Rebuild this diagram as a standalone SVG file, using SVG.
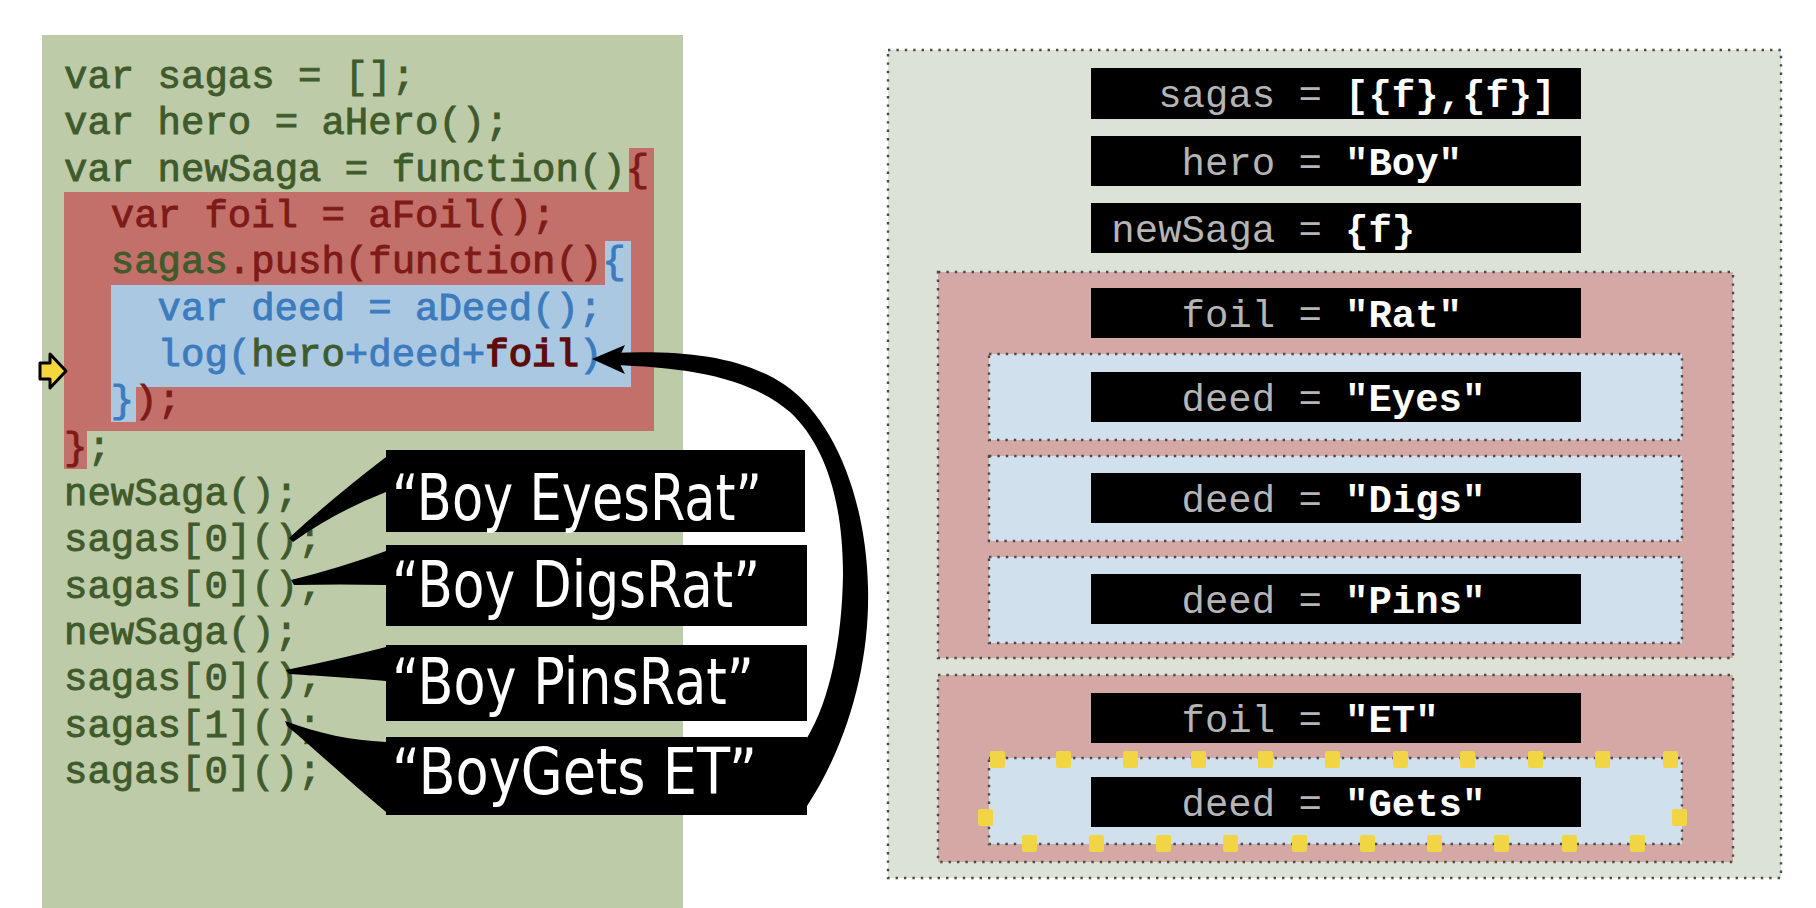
<svg xmlns="http://www.w3.org/2000/svg" width="1816" height="908" viewBox="0 0 1816 908">
<defs>
<style>
.code{font-family:"Liberation Mono","DejaVu Sans Mono",monospace;font-size:39px;font-weight:normal;stroke-width:0.9px}
.g{fill:#3f5a2b;stroke:#3f5a2b}
.r{fill:#7e1a17;stroke:#7e1a17}
.b{fill:#3c7bbd;stroke:#3c7bbd}
.dr{fill:#5e0c0c;stroke:#5e0c0c;stroke-width:1.6px}
.hand{font-family:"DejaVu Sans","Liberation Sans",sans-serif;font-size:64px;fill:#ffffff}
.dot{stroke:#4a4a4a;stroke-width:2.4;stroke-dasharray:2.4 6;fill:none}
.nm{font-family:"Liberation Mono","DejaVu Sans Mono",monospace;font-size:39px;fill:#b5b5b5;text-anchor:end}
.val{font-family:"Liberation Mono","DejaVu Sans Mono",monospace;font-size:39px;font-weight:bold;fill:#ffffff}
.box{fill:#000}
.ys{fill:#f2d544}
</style>
</defs>
<rect width="1816" height="908" fill="#ffffff"/>

<g id="code-panel">
<rect x="42" y="35" width="641" height="873" fill="#bdcba9"/>
<path d="M629 148H654V431H87V469H64V192H629Z" fill="#c3706a"/>
<path d="M605 241H631V387H136V422H111V285H605Z" fill="#aac8e2"/>
<polygon points="40,363 50,363 50,354 66,371 50,388 50,379 40,379" fill="#f4d63e" stroke="#000" stroke-width="3" stroke-linejoin="round"/>
<text class="code" x="64" y="88"><tspan class="g">var sagas = [];</tspan></text>
<text class="code" x="64" y="134.3"><tspan class="g">var hero = aHero();</tspan></text>
<text class="code" x="64" y="180.7"><tspan class="g">var newSaga = function()</tspan><tspan class="r">{</tspan></text>
<text class="code" x="110.8" y="227"><tspan class="r">var foil = aFoil();</tspan></text>
<text class="code" x="110.8" y="273.3"><tspan class="g">sagas</tspan><tspan class="r">.push(function()</tspan><tspan class="b">{</tspan></text>
<text class="code" x="157.6" y="319.7"><tspan class="b">var deed = aDeed();</tspan></text>
<text class="code" x="157.6" y="366"><tspan class="b">log(</tspan><tspan class="g">hero</tspan><tspan class="b">+deed+</tspan><tspan class="dr">foil</tspan><tspan class="b">)</tspan></text>
<text class="code" x="110.8" y="412.3"><tspan class="b">}</tspan><tspan class="r">);</tspan></text>
<text class="code" x="64" y="458.7"><tspan class="r">}</tspan><tspan class="g">;</tspan></text>
<text class="code g" x="64" y="505">newSaga();</text>
<text class="code g" x="64" y="551.3">sagas[0]();</text>
<text class="code g" x="64" y="597.7">sagas[0]();</text>
<text class="code g" x="64" y="644">newSaga();</text>
<text class="code g" x="64" y="690.3">sagas[0]();</text>
<text class="code g" x="64" y="736.7">sagas[1]();</text>
<text class="code g" x="64" y="783">sagas[0]();</text>
</g>

<g id="connectors">
<path d="M289 538Q330 500 386 457L386 492Q335 512 293 542Z" fill="#000"/>
<path d="M291 580Q340 568 386 551L386 585Q340 584 294 585Z" fill="#000"/>
<path d="M286 670Q340 659 386 647L386 681Q340 677 289 674Z" fill="#000"/>
<path d="M285 721C320 734 350 740 386 742L386 812C350 782 318 752 287 726Z" fill="#000"/>
<path d="M610 353C680 350 740 355 785 385C835 420 866 500 868 587C870 660 850 740 807 806L807 738C830 700 842 640 843 575C843 500 825 445 790 412C750 378 690 367 610 365Z" fill="#000"/>
<path d="M592 359L625 345L618 360L625 374Z" fill="#000"/>
</g>

<g id="bubble-1">
<rect x="386" y="450" width="419" height="82" class="box"/>
<text class="hand" x="392" y="520" textLength="370" lengthAdjust="spacingAndGlyphs">“Boy EyesRat”</text>
</g>
<g id="bubble-2">
<rect x="386" y="545" width="421" height="81" class="box"/>
<text class="hand" x="392" y="607" textLength="368" lengthAdjust="spacingAndGlyphs">“Boy DigsRat”</text>
</g>
<g id="bubble-3">
<rect x="386" y="645" width="421" height="76" class="box"/>
<text class="hand" x="392" y="704" textLength="362" lengthAdjust="spacingAndGlyphs">“Boy PinsRat”</text>
</g>
<g id="bubble-4">
<rect x="386" y="737" width="421" height="78" class="box"/>
<text class="hand" x="392" y="794" textLength="365" lengthAdjust="spacingAndGlyphs">“BoyGets ET”</text>
</g>

<g id="global-scope">
<rect x="888" y="50" width="893" height="828" class="dot" style="fill:#dce3d6"/>
<g id="var-sagas"><rect x="1091" y="68" width="490" height="51" class="box"/><text class="nm" x="1322" y="107">sagas =</text><text class="val" x="1345" y="107">[{f},{f}]</text></g>
<g id="var-hero"><rect x="1091" y="136" width="490" height="50" class="box"/><text class="nm" x="1322" y="175">hero =</text><text class="val" x="1345" y="175">"Boy"</text></g>
<g id="var-newSaga"><rect x="1091" y="203" width="490" height="50" class="box"/><text class="nm" x="1322" y="242">newSaga =</text><text class="val" x="1345" y="242">{f}</text></g>
</g>

<g id="saga-scope-1">
<rect x="938" y="272" width="795" height="386" class="dot" style="fill:#d4a9a5"/>
<g id="var-foil-1"><rect x="1091" y="288" width="490" height="50" class="box"/><text class="nm" x="1322" y="327">foil =</text><text class="val" x="1345" y="327">"Rat"</text></g>
<g id="deed-scope-1"><rect x="989" y="354" width="693" height="86" class="dot" style="fill:#d0e0ec"/><rect x="1091" y="372" width="490" height="50" class="box"/><text class="nm" x="1322" y="411">deed =</text><text class="val" x="1345" y="411">"Eyes"</text></g>
<g id="deed-scope-2"><rect x="989" y="456" width="693" height="85" class="dot" style="fill:#d0e0ec"/><rect x="1091" y="473" width="490" height="50" class="box"/><text class="nm" x="1322" y="512">deed =</text><text class="val" x="1345" y="512">"Digs"</text></g>
<g id="deed-scope-3"><rect x="989" y="557" width="693" height="86" class="dot" style="fill:#d0e0ec"/><rect x="1091" y="574" width="490" height="50" class="box"/><text class="nm" x="1322" y="613">deed =</text><text class="val" x="1345" y="613">"Pins"</text></g>
</g>

<g id="saga-scope-2">
<rect x="938" y="675" width="795" height="187" class="dot" style="fill:#d4a9a5"/>
<g id="var-foil-2"><rect x="1091" y="693" width="490" height="50" class="box"/><text class="nm" x="1322" y="732">foil =</text><text class="val" x="1345" y="732">"ET"</text></g>
<g id="deed-scope-4"><rect x="989" y="758" width="693" height="86" class="dot" style="fill:#d0e0ec"/><rect x="1091" y="777" width="490" height="50" class="box"/><text class="nm" x="1322" y="816">deed =</text><text class="val" x="1345" y="816">"Gets"</text></g>
<g id="selection-handles">
<rect class="ys" x="990" y="751" width="15" height="17" rx="2"/>
<rect class="ys" x="1056" y="751" width="15" height="17" rx="2"/>
<rect class="ys" x="1123" y="751" width="15" height="17" rx="2"/>
<rect class="ys" x="1191" y="751" width="15" height="17" rx="2"/>
<rect class="ys" x="1258" y="751" width="15" height="17" rx="2"/>
<rect class="ys" x="1325" y="751" width="15" height="17" rx="2"/>
<rect class="ys" x="1393" y="751" width="15" height="17" rx="2"/>
<rect class="ys" x="1460" y="751" width="15" height="17" rx="2"/>
<rect class="ys" x="1528" y="751" width="15" height="17" rx="2"/>
<rect class="ys" x="1595" y="751" width="15" height="17" rx="2"/>
<rect class="ys" x="1663" y="751" width="15" height="17" rx="2"/>
<rect class="ys" x="978" y="809" width="15" height="17" rx="2"/>
<rect class="ys" x="1672" y="809" width="15" height="17" rx="2"/>
<rect class="ys" x="1022" y="835" width="15" height="17" rx="2"/>
<rect class="ys" x="1089" y="835" width="15" height="17" rx="2"/>
<rect class="ys" x="1156" y="835" width="15" height="17" rx="2"/>
<rect class="ys" x="1223" y="835" width="15" height="17" rx="2"/>
<rect class="ys" x="1292" y="835" width="15" height="17" rx="2"/>
<rect class="ys" x="1360" y="835" width="15" height="17" rx="2"/>
<rect class="ys" x="1427" y="835" width="15" height="17" rx="2"/>
<rect class="ys" x="1494" y="835" width="15" height="17" rx="2"/>
<rect class="ys" x="1562" y="835" width="15" height="17" rx="2"/>
<rect class="ys" x="1630" y="835" width="15" height="17" rx="2"/>
</g>
</g>
</svg>
